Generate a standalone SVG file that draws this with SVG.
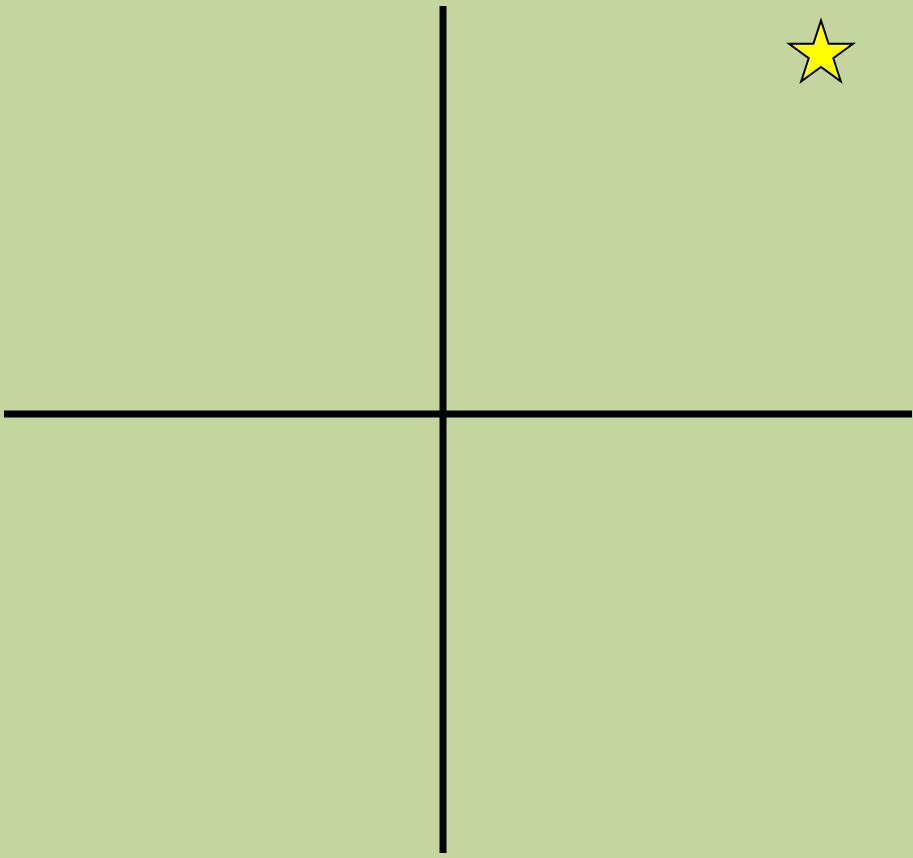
<svg xmlns="http://www.w3.org/2000/svg" width="913" height="858" viewBox="0 0 913 858">
<style>
.axis{stroke:#000;stroke-width:7;fill:none}
.star{fill:#ffff00;stroke:#000;stroke-width:2;stroke-linejoin:miter}
</style>
<rect x="0" y="0" width="913" height="858" fill="#c4d69e"/>
<g id="connectors">
<line class="axis" x1="443" y1="6" x2="443" y2="853"/>
<line class="axis" x1="4" y1="414" x2="912" y2="414"/>
</g>
<g id="star">
<polygon class="star" points="821,20.5 828.6,43.8 853,43.8 833.3,58.2 840.8,81.3 821,67 801.2,81.3 808.7,58.2 789,43.8 813.4,43.8"/>
</g>
</svg>
